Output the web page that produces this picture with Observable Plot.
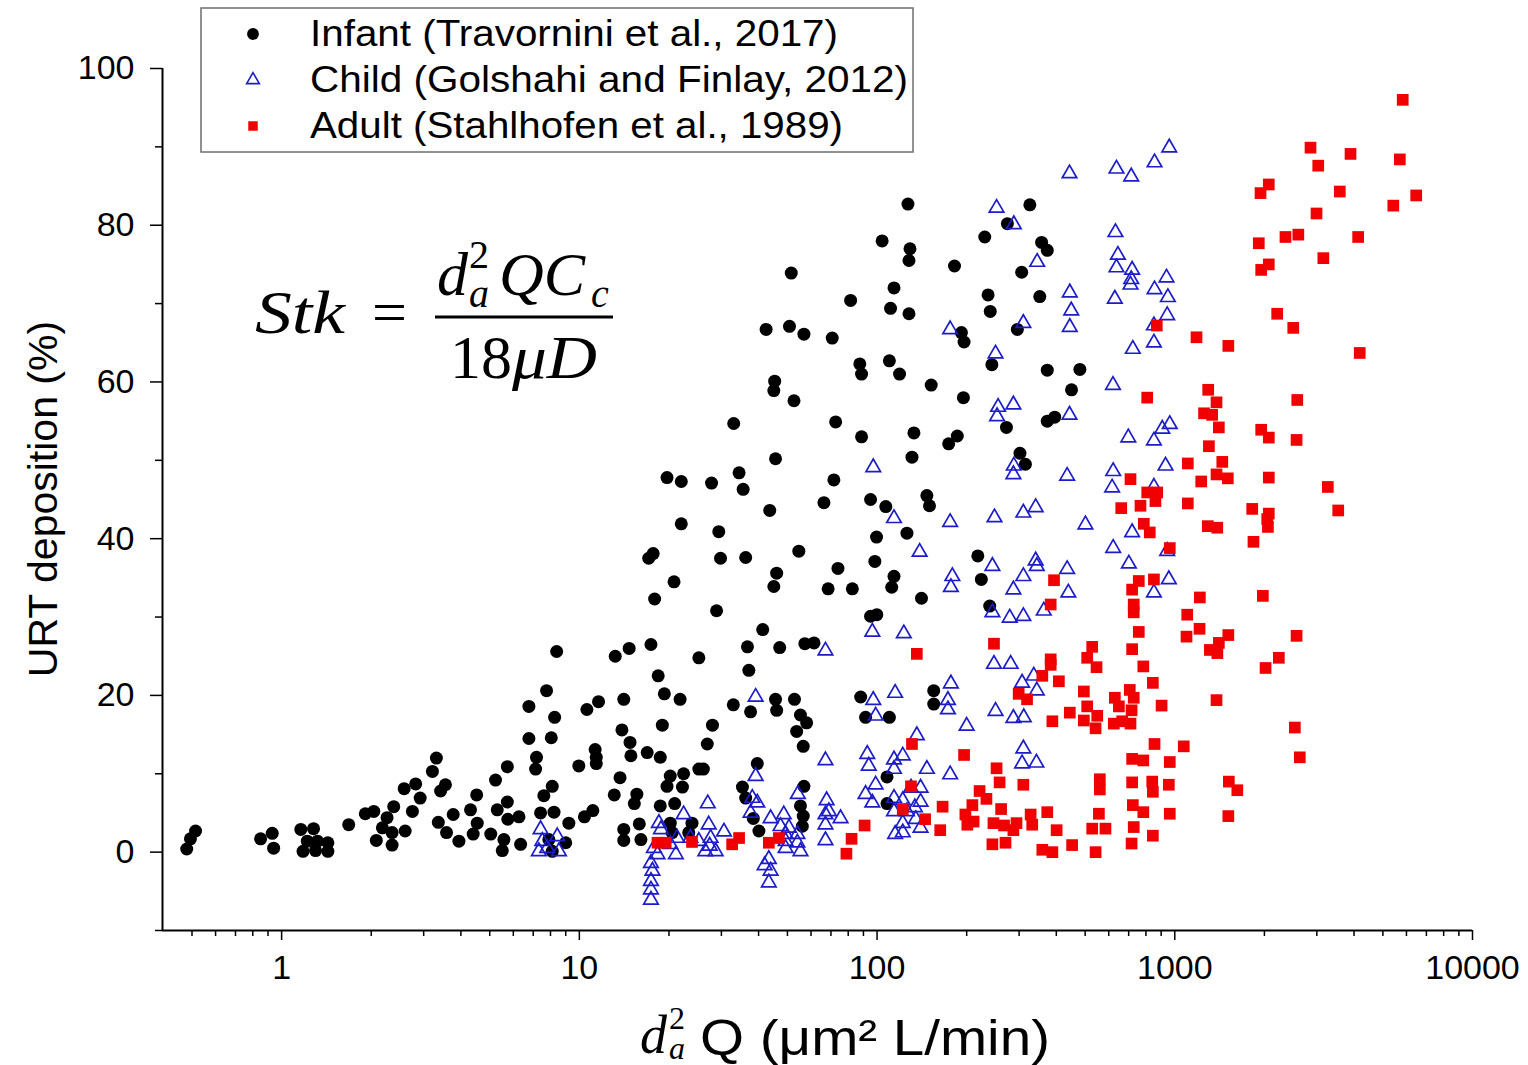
<!DOCTYPE html>
<html><head><meta charset="utf-8">
<script src="https://cdn.jsdelivr.net/npm/d3@7"></script>
<script src="https://cdn.jsdelivr.net/npm/@observablehq/plot@0.6"></script>
<style>body{margin:0;background:#fff}#chart svg{display:block}</style>
</head><body><div id="chart"></div>
<script>
const seriesNames = ["Infant (Travornini et al., 2017)", "Child (Golshahi and Finlay, 2012)", "Adult (Stahlhofen et al., 1989)"];
const infant = [
[0.48,0.4],[0.494,1.7],[0.514,2.7],[0.85,1.7],[0.93,2.4],[0.94,0.5],
[1.16,2.9],[1.28,3.0],[1.22,1.4],[1.32,1.4],[1.43,1.2],[1.18,0.1],[1.30,0.2],[1.43,0.1],
[1.68,3.5],[1.91,4.9],[2.04,5.2],[2.38,5.8],[2.26,4.4],[2.18,3.1],[2.35,2.5],[2.08,1.5],[2.35,0.9],[2.6,2.7],[2.75,5.2],[2.58,8.1],[2.82,8.7],[2.92,6.9],[3.21,10.3],[3.31,12.0],[3.42,7.8],[3.55,8.6],[3.36,3.8],[3.58,2.5],[3.77,4.8],[3.94,1.4],
[8.39,25.6],[13.2,25.0],[14.7,26.0],[17.4,26.5],[25.2,24.8],
[7.76,20.6],[6.77,18.6],[10.6,18.2],[11.6,19.2],[14.1,19.5],[18.4,22.5],[19.3,20.2],[21.8,19.5],
[8.26,17.2],[6.77,14.5],[8.05,14.6],[13.9,15.6],[19.0,16.2],
[7.18,12.1],[7.13,10.6],[5.73,10.9],[5.23,9.2],[9.96,11.0],[11.3,13.1],[11.4,12.1],[11.4,11.3],[14.8,14.0],[14.9,12.3],[16.9,12.7],[18.7,12.1],
[4.52,7.3],[5.73,6.4],[5.30,5.4],[4.31,5.4],[4.54,3.7],[5.75,4.2],[6.27,4.5],
[8.11,8.4],[7.60,7.2],[7.41,5.0],[8.22,5.1],[9.22,3.7],[10.4,4.5],[11.1,5.3],
[13.1,7.3],[13.7,9.5],[15.6,7.4],[15.3,6.2],[20.2,9.7],[22.4,10.0],[19.7,8.4],[22.2,8.3],[18.7,5.9],[20.9,6.2],[25.2,10.6],
[4.40,2.3],[5.04,2.3],[5.58,1.6],[5.51,0.2],[6.35,1.0],[7.90,1.6],[8.11,0.1],[9.00,1.2],
[14.1,2.9],[14.1,1.5],[15.9,3.6],[16.1,1.6],[20.2,3.7],[20.5,2.5],[23.9,3.7],[23.3,2.5],
[33.0,54.7],[72.6,54.9],[88.7,53.0],[45.6,50.2],[19.7,47.8],[22.0,47.3],[27.8,47.1],[34.4,48.4],[35.5,46.3],[71.6,47.5],[66.3,44.6],[95.1,45.0],[107,44.1],[43.6,43.6],[22.0,41.9],[29.4,40.9],[99.6,40.2],[17.7,38.1],[17.1,37.5],[29.8,37.5],[36.2,37.6],[54.6,38.4],[98.3,37.1],[73.9,36.2],[46.0,35.6],[45.0,33.9],[68.5,33.6],[82.6,33.6],[20.8,34.5],[17.9,32.3],[28.9,30.8],[95.1,30.1],[99.8,30.3],[41.3,28.4],[36.7,26.2],[47.1,26.1],[57.2,26.6],[61.4,26.7],
[104,78.0],[51.5,73.9],[81.5,70.4],[42.4,66.7],[50.8,67.1],[56.8,66.1],[70.7,65.6],[87.5,62.3],[88.7,61.0],[45.3,60.1],[45.0,58.9],[52.6,57.6],
[127,82.7],[326,82.6],[274,80.2],[129,77.0],[128,75.5],[230,78.5],[357,77.8],[373,76.8],[182,74.8],[306,74.0],[114,72.0],[111,69.4],[128,68.7],[236,71.1],[240,69.0],[352,70.9],[192,66.3],[196,65.1],[296,66.7],[110,62.7],[119,61.0],[152,59.6],[195,58.0],[243,62.2],[373,61.5],[480,61.6],[450,59.0],
[133,53.5],[186,53.1],[174,52.1],[131,50.4],[272,54.2],[373,55.0],[395,55.5],[302,50.9],[315,49.5],[147,45.5],[150,44.2],[126,40.7],[114,35.2],[112,33.8],[141,32.4],[218,37.8],[224,34.8],[239,31.4],
[37.1,23.2],[32.9,18.8],[37.6,17.9],[45.6,19.5],[46.0,18.1],[52.8,19.5],[55.3,17.5],[58.0,16.5],[53.7,15.4],[56.5,13.5],[28.0,16.2],[26.9,13.8],[26.1,10.6],[39.6,11.3],[35.3,8.3],[36.2,6.9],[38.4,4.3],[40.1,2.7],[56.8,8.4],[55.3,5.9],[56.5,4.6],[56.1,3.3],[88.1,19.8],[91.5,17.2],[110,17.2],[108,9.6],[108,6.2],
[155,20.6],[155,18.9]
];
const child = [
[443,86.6],[637,87.2],[714,86.2],[855,88.0],[958,89.9],[252,82.2],[288,80.1],[632,79.1],[644,76.2],[637,74.6],[719,74.3],[714,73.1],[710,72.4],[938,73.3],[855,71.8],[948,70.8],[943,68.5],[851,67.2],[851,65.0],[723,64.2],[629,70.6],[345,75.3],[444,71.4],[449,69.1],[444,67.0],[310,67.5],[176,66.7],[250,63.6],[620,59.6],[255,56.8],[287,57.1],[253,55.6],[443,55.8],
[698,52.9],[851,52.5],[908,54.0],[962,54.6],[931,49.3],[621,48.6],[616,46.5],[851,46.6],[435,48.0],[288,49.3],[287,48.2],[114,42.6],[176,42.1],[248,42.7],[310,43.3],[341,44.0],[501,41.8],[719,40.8],[139,38.3],[621,38.8],[701,36.8],[943,38.4],[179,35.2],[177,33.8],[244,36.5],[341,37.2],[344,36.5],[310,35.2],[287,33.5],[435,36.1],[439,33.1],[363,30.8],[244,30.6],[279,29.9],[310,30.1],[851,33.1],[955,34.8],[123,27.9],
[97.1,49.1],[96.4,28.1],
[247,24.0],[281,24.0],[307,21.6],[336,22.5],[344,20.6],[115,20.3],[177,21.5],[173,19.4],[173,18.2],[200,16.1],[250,18.0],[287,17.1],[311,17.2],[310,13.2],[307,11.3],[343,11.4],[136,14.9],[122,12.3],[114,11.8],[147,10.6],[176,9.9],[114,10.6],[130,8.2],[140,8.2],[114,6.9],[122,6.6],[140,6.4],[114,5.2],[126,5.2],[134,5.7],[122,3.7],[135,4.2],[140,3.1],[115,2.3],[122,2.5],
[67.1,25.7],[39.1,19.8],[97.1,19.4],[98.9,17.4],[67.1,11.7],[39.1,9.7],[27.0,6.2],[38.1,6.9],[39.6,6.3],[37.6,5.0],[43.9,4.3],[54.2,7.4],[67.7,6.6],[67.1,4.8],[68.9,5.2],[75.4,4.3],[67.1,3.5],[67.1,1.5],[92.7,12.5],[93.8,11.0],[91.5,7.4],[98.9,8.6],[27.2,3.5],[27.6,1.8],[27.4,0.8],[30.6,2.6],[25.2,1.4],[26.5,0.1],[28.7,0.1],[48.6,4.8],[47.4,3.3],[50.6,3.1],[49.3,2.3],[49.3,1.4],[49.3,0.5],[54.0,2.3],[54.0,1.2],[55.3,0.1],[43.3,-0.9],[43.9,-2.4],[43.3,-3.9],[41.9,-1.7],[96.4,6.3],
[7.41,2.9],[7.51,1.4],[7.31,0.1],[7.80,0.5],[8.43,2.0],[8.54,0.1],[18.5,3.7],[18.8,2.9],[22.4,4.8],[17.8,0.5],[18.3,-0.3],[17.4,-1.4],[17.6,-2.4],[17.4,-3.7],[17.4,-4.8],[17.4,-6.1],[20.2,1.0],[21.3,1.8],[21.1,-0.3],[23.6,1.8]
];
const adult = [
[5830,96.0],[2857,89.9],[3893,89.1],[5700,88.4],[3033,87.6],[2069,85.2],[1941,84.1],[3583,84.3],[6470,83.8],[5420,82.5],[2993,81.5],[1915,77.7],[2354,78.5],[2600,78.8],[4130,78.5],[3155,75.8],[2069,75.0],[1951,74.3],[2208,68.7],[2500,66.9],[1183,65.7],[1513,64.6],[4180,63.7],[1295,59.0],[1381,57.4],[2579,57.7],[1254,56.0],[1335,55.8],
[870,67.2],[808,58.0],
[1406,54.2],[1951,53.9],[2069,52.9],[2565,52.6],[1302,51.8],[1106,49.6],[1444,49.8],[1381,48.2],[1507,47.7],[1227,47.3],[2069,47.8],[3266,46.6],[3540,43.6],[1106,44.5],[1820,43.8],[2069,43.2],[2044,42.5],[2055,41.5],[1291,41.6],[1389,41.4],[1838,39.6],[1214,32.5],[1976,32.7],[1101,30.3],[1211,28.5],[1095,27.5],[1513,27.7],[2565,27.6],[1406,26.7],[1312,25.8],[1390,25.4],[2236,24.8],
[710,47.6],[808,45.9],[873,45.9],[861,44.8],[661,43.9],[767,44.2],[787,41.9],[824,40.8],[962,38.8],[393,34.7],[383,31.6],[719,33.5],[757,34.6],[851,34.8],[728,31.6],[728,30.6],[757,28.1],[719,25.9],[247,26.6],[136,25.3],
[2018,23.5],[784,23.7],[844,21.6],[1381,19.4],[629,19.7],[649,18.6],[706,20.7],[728,19.7],[716,18.1],[903,18.7],[624,16.4],[666,16.7],[710,16.4],[2531,15.9],[855,13.8],[1072,13.5],[2630,12.1],[719,11.9],[784,11.7],[962,11.5],[719,8.9],[840,9.0],[844,7.7],[955,8.6],[1519,9.0],[1622,7.9],[1513,4.6],[723,6.0],[784,5.1],[962,4.9],[728,3.2],[844,2.1],[716,1.1],
[383,24.6],[383,23.9],[528,26.2],[508,24.8],[546,23.6],[359,22.5],[408,21.8],[299,20.2],[319,19.5],[495,20.5],[444,17.8],[388,16.7],[508,18.6],[549,17.4],[495,16.8],[542,15.8],[131,13.8],[196,12.4],[252,10.7],[258,8.9],[310,8.6],[560,9.3],[560,8.0],[130,8.4],[122,5.5],[166,5.8],[145,4.2],[163,2.8],[221,7.8],[233,6.8],[209,6.0],[198,4.8],[201,3.5],[211,3.9],[261,5.5],[246,3.7],[267,3.4],[287,2.8],[294,3.7],[244,1.0],[270,1.2],[328,4.8],[332,3.5],[373,5.1],[401,2.8],[359,0.3],[388,0.0],[452,0.9],[528,3.0],[585,3.0],[556,4.9],[542,0.0],
[32.6,1.0],[34.4,1.8],[43.3,1.2],[46.8,1.8],[90.8,3.4],[82.1,1.7],[78.9,-0.2],
[18.3,1.2],[19.5,1.2],[23.9,1.3]
];
const xDomain = [0.398, 10000];
const yDomain = [-10, 100];
const xMajorTicks = [1, 10, 100, 1000, 10000];
const xMinorTicks = [0.5,0.6,0.7,0.8,0.9,2,3,4,5,6,7,8,9,20,30,40,50,60,70,80,90,200,300,400,500,600,700,800,900,2000,3000,4000,5000,6000,7000,8000,9000];
const yMajorTicks = [0, 20, 40, 60, 80, 100];
const yMinorTicks = [-10, 10, 30, 50, 70, 90];

const colors = {infant: "#000000", child: "#1c1cc8", adult: "#f00000"};
const toRows = (arr) => arr.map(([x, y]) => ({x, y}));

const chart = Plot.plot({
  width: 1528, height: 1065,
  marginLeft: 162, marginRight: 56, marginTop: 68, marginBottom: 135,
  style: {fontFamily: "'Liberation Sans', Arial, sans-serif", fontSize: "34px", color: "#000", background: "#fff"},
  x: {type: "log", domain: xDomain, label: null},
  y: {domain: yDomain, label: null},
  marks: [
    Plot.axisY({ticks: yMajorTicks, tickSize: 12, tickPadding: 16, tickFormat: d => String(d), label: null, fontSize: 34, strokeWidth: 1.5}),
    Plot.axisY({ticks: yMinorTicks, tickSize: 7, tickFormat: () => "", label: null, strokeWidth: 1.5}),
    Plot.axisX({ticks: xMajorTicks, tickSize: 10, tickPadding: 14, tickFormat: d => String(d), label: null, fontSize: 34, strokeWidth: 1.5}),
    Plot.axisX({ticks: xMinorTicks, tickSize: 6, tickFormat: () => "", label: null, strokeWidth: 1.5}),
    Plot.ruleX([xDomain[0]], {stroke: "#000", strokeWidth: 2}),
    Plot.ruleY([yDomain[0]], {stroke: "#000", strokeWidth: 2}),
    Plot.dot(toRows(infant), {x: "x", y: "y", symbol: "circle", r: 6.5, fill: colors.infant, stroke: "none"}),
    Plot.dot(toRows(child), {x: "x", y: "y", symbol: "triangle", r: 5.4, fill: "none", stroke: colors.child, strokeWidth: 1.7}),
    Plot.dot(toRows(adult), {x: "x", y: "y", symbol: "square", r: 6.6, fill: colors.adult, stroke: "none"})
  ]
});
document.getElementById("chart").appendChild(chart);

const svg = d3.select(chart);
const serif = "'Liberation Serif', 'DejaVu Serif', serif";
const sans = "'Liberation Sans', Arial, sans-serif";
// legend
const lg = svg.append("g").attr("text-anchor", "start");
lg.append("rect").attr("x", 201).attr("y", 8).attr("width", 712).attr("height", 144)
  .attr("fill", "#fff").attr("stroke", "#6e6e6e").attr("stroke-width", 1.5);
const legendSymbols = [
  {type: d3.symbolCircle, size: 110, fill: colors.infant, stroke: "none"},
  {type: d3.symbolTriangle, size: 70, fill: "none", stroke: colors.child},
  {type: d3.symbolSquare, size: 90, fill: colors.adult, stroke: "none"}
];
const legendRows = [34, 80, 126];
const legendTextWidths = [528, 598, 533];
seriesNames.forEach((name, i) => {
  const s = legendSymbols[i];
  lg.append("path").attr("d", d3.symbol().type(s.type).size(s.size)())
    .attr("transform", `translate(253,${legendRows[i]})`)
    .attr("fill", s.fill).attr("stroke", s.stroke).attr("stroke-width", 1.6);
  lg.append("text").attr("x", 310).attr("y", legendRows[i] + 12)
    .attr("font-family", sans).attr("font-size", 37)
    .attr("textLength", legendTextWidths[i]).attr("lengthAdjust", "spacingAndGlyphs")
    .attr("fill", "#000").text(name);
});
// y label
svg.append("text").attr("transform", "translate(57,499) rotate(-90)")
  .attr("text-anchor", "middle").attr("font-family", sans)
  .attr("font-size", 41).attr("fill", "#000").text("URT deposition (%)");
// x label
const xl = svg.append("g").attr("fill", "#000").attr("text-anchor", "start");
xl.append("text").attr("x", 640).attr("y", 1053).attr("font-family", serif).attr("font-style", "italic").attr("font-size", 54).text("d");
xl.append("text").attr("x", 669).attr("y", 1029).attr("font-family", serif).attr("font-size", 32).text("2");
xl.append("text").attr("x", 669).attr("y", 1059).attr("font-family", serif).attr("font-style", "italic").attr("font-size", 32).text("a");
xl.append("text").attr("x", 700).attr("y", 1055).attr("font-family", sans).attr("font-size", 50)
  .attr("textLength", 350).attr("lengthAdjust", "spacingAndGlyphs").text("Q (μm² L/min)");
// formula
const fm = svg.append("g").attr("fill", "#000").attr("font-family", serif).attr("text-anchor", "start");
fm.append("text").attr("x", 255).attr("y", 333).attr("font-style", "italic").attr("font-size", 62)
  .attr("textLength", 90).attr("lengthAdjust", "spacingAndGlyphs").text("Stk");
fm.append("text").attr("x", 372).attr("y", 333).attr("font-size", 62).text("=");
fm.append("text").attr("x", 437).attr("y", 295).attr("font-style", "italic").attr("font-size", 62).text("d");
fm.append("text").attr("x", 469).attr("y", 268).attr("font-size", 40).text("2");
fm.append("text").attr("x", 469).attr("y", 307).attr("font-style", "italic").attr("font-size", 40).text("a");
fm.append("text").attr("x", 499).attr("y", 295).attr("font-style", "italic").attr("font-size", 62).text("QC");
fm.append("text").attr("x", 591).attr("y", 307).attr("font-style", "italic").attr("font-size", 40).text("c");
fm.append("line").attr("x1", 435).attr("x2", 613).attr("y1", 317).attr("y2", 317).attr("stroke", "#000").attr("stroke-width", 3);
fm.append("text").attr("x", 450).attr("y", 378).attr("font-size", 62).text("18");
fm.append("text").attr("x", 512).attr("y", 378).attr("font-style", "italic").attr("font-size", 62)
  .attr("textLength", 85).attr("lengthAdjust", "spacingAndGlyphs").text("μD");
</script></body></html>
